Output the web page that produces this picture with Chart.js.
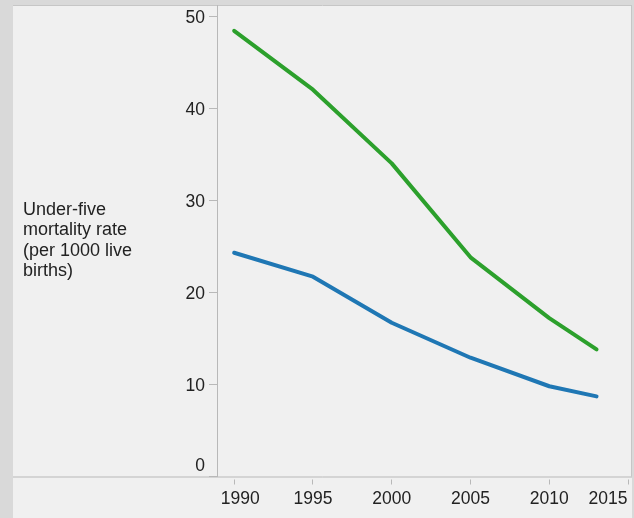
<!DOCTYPE html>
<html><head><meta charset="utf-8">
<script src="https://cdn.jsdelivr.net/npm/chart.js@4.4.1/dist/chart.umd.min.js"></script>
<style>
html,body{margin:0;padding:0;background:#d9d9d9;}
#wrap{position:relative;width:634px;height:518px;overflow:hidden;}
canvas{position:absolute;left:0;top:0;}
#ytitle{position:absolute;left:23px;top:199px;font:18px "Liberation Sans",Arial,sans-serif;line-height:20.3px;color:#222;white-space:nowrap;}
</style></head><body>
<div id="wrap"><canvas id="c" width="634" height="518"></canvas>
<div id="ytitle">Under-five<br>mortality rate<br>(per 1000 live<br>births)</div></div>
<script>
// ---- data ----
const years = [1990, 1995, 2000, 2005, 2010, 2013];
const seriesGreen = [48.4, 42.0, 34.0, 23.8, 17.2, 13.8];
const seriesBlue = [24.3, 21.7, 16.7, 12.9, 9.8, 8.7];
const xTickValues = [1990, 1995, 2000, 2005, 2010, 2015];
const yTickValues = [0, 10, 20, 30, 40, 50];

const toPoints = vals => years.map((yr, i) => ({x: yr, y: vals[i]}));

const panelPlugin = {
  id: 'panel',
  beforeDraw(chart) {
    const ctx = chart.ctx;
    const ca = chart.chartArea;
    ctx.save();
    ctx.fillStyle = '#d9d9d9';
    ctx.fillRect(0, 0, chart.width, chart.height);
    ctx.fillStyle = '#f0f0f0';
    ctx.fillRect(13, 5, 619, chart.height - 5);
    ctx.lineWidth = 1;
    ctx.strokeStyle = '#c6c6c6';
    ctx.beginPath();
    ctx.moveTo(13, 5.5); ctx.lineTo(632, 5.5);
    ctx.moveTo(631.5, 5); ctx.lineTo(631.5, ca.bottom);
    ctx.stroke();
    ctx.strokeStyle = '#b8b8b8';
    ctx.beginPath();
    ctx.moveTo(13, ca.bottom + 0.5); ctx.lineTo(632, ca.bottom + 0.5);
    ctx.stroke();
    ctx.restore();
  }
};

const labelShiftPlugin = {
  id: 'labelShift',
  afterUpdate(chart) {
    const ys = chart.scales.y;
    ys.getLabelItems().forEach((it, i) => {
      if (ys.ticks[i].value === 0) it.options.translation[1] -= 10.5;
      else it.options.translation[1] += 2;
    });
    const xs = chart.scales.x;
    xs.getLabelItems().forEach((it, i) => {
      const v = xs.ticks[i].value;
      if (v === xTickValues[0]) it.options.translation[0] += 6;
      if (v === xTickValues[xTickValues.length - 1]) it.options.translation[0] -= 20;
    });
  }
};

Chart.defaults.font.family = '"Liberation Sans", Arial, sans-serif';
Chart.defaults.font.size = 17.5;
Chart.defaults.color = '#222';

new Chart(document.getElementById('c'), {
  type: 'line',
  data: {
    datasets: [
      {label: 'Series 1', data: toPoints(seriesGreen), borderColor: '#2ca02c', borderWidth: 4, pointRadius: 0, borderCapStyle: 'round', borderJoinStyle: 'round', fill: false, tension: 0},
      {label: 'Series 2', data: toPoints(seriesBlue), borderColor: '#1f77b4', borderWidth: 4, pointRadius: 0, borderCapStyle: 'round', borderJoinStyle: 'round', fill: false, tension: 0}
    ]
  },
  options: {
    responsive: false,
    animation: false,
    layout: {padding: {left: 0, top: 5, right: 2, bottom: 0}},
    plugins: {legend: {display: false}, tooltip: {enabled: false}},
    scales: {
      x: {
        type: 'linear',
        min: 1988.91,
        max: 2015.25,
        afterBuildTicks: s => { s.ticks = xTickValues.map(v => ({value: v})); },
        afterFit: s => { s.paddingLeft = 0; s.paddingRight = 0; s.height = 41.5; },
        ticks: {padding: 4, maxRotation: 0, autoSkip: false, callback: v => String(v)},
        grid: {drawOnChartArea: false, drawTicks: true, tickLength: 8, tickColor: '#b8b8b8', tickWidth: 1, tickBorderDash: [0, 2.5, 5, 100]},
        border: {display: false}
      },
      y: {
        type: 'linear',
        min: 0,
        max: 51.2,
        afterBuildTicks: s => { s.ticks = yTickValues.map(v => ({value: v})); },
        afterFit: s => { s.paddingTop = 0; s.paddingBottom = 0; s.width = 217; },
        ticks: {padding: 4},
        grid: {drawOnChartArea: false, drawTicks: true, tickLength: 8, tickColor: '#b8b8b8', tickWidth: 1},
        border: {display: true, color: '#b8b8b8', width: 1}
      }
    }
  },
  plugins: [panelPlugin, labelShiftPlugin]
});
</script>
</body></html>
